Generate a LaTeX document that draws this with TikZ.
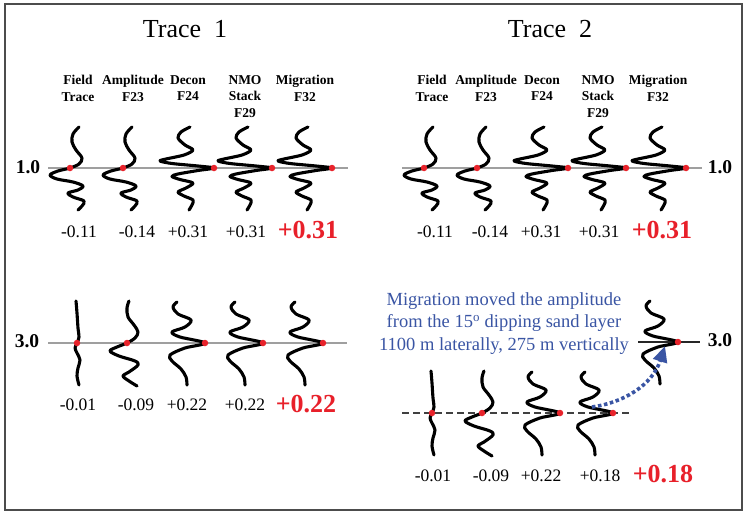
\documentclass[tikz,border=0pt]{standalone}
\usepackage{fontspec}
\setmainfont{Liberation Serif}
\usetikzlibrary{arrows.meta}
\definecolor{dotred}{HTML}{E8232B}
\definecolor{valred}{HTML}{E8202A}
\definecolor{txtblue}{HTML}{3A55A4}
\tikzset{
 wiggle/.style={line width=3.1pt, line cap=round, line join=round, draw=black},
 dotmark/.style={circle, fill=dotred, inner sep=0pt, minimum size=6.5pt},
 baseln/.style={draw=gray!75, line width=1.1pt},
 hdr/.style={font=\fontsize{13.5}{16.5}\selectfont\bfseries, align=center, anchor=north, inner sep=0pt},
 val/.style={font=\fontsize{17.5}{20}\selectfont, anchor=base, inner sep=0pt},
 bigval/.style={font=\fontsize{26}{30}\selectfont\bfseries, text=valred, anchor=base, inner sep=0pt},
 depthlbl/.style={font=\fontsize{19.5}{22}\selectfont\bfseries, anchor=base, inner sep=0pt},
 titlelbl/.style={font=\fontsize{26}{30}\selectfont, anchor=base, inner sep=0pt},
 note/.style={font=\fontsize{18.5}{22.5}\selectfont, text=txtblue, align=center, anchor=base, inner sep=0pt},
 migarrow/.style={draw=txtblue, line width=3.6pt, dash pattern=on 3.5pt off 2.6pt, -{Triangle[length=16pt,width=14pt,fill=txtblue]}},
}
% zero crossing at the time line, swinging left below it
\newcommand\wigA[2]{\draw[wiggle, shift={(#1,#2)}] plot[smooth, tension=0.55] coordinates {(9,-41) (3,-34) (2,-26) (6,-18) (12,-10) (9,-4) (0,0) (-12,3) (-20,7) (-13,11) (3,14) (13,18) (8,22) (-2,25) (3,29) (14,33) (12,38) (8,42)};}
% sharp peak on the time line, high frequency
\newcommand\wigB[2]{\draw[wiggle, shift={(#1,#2)}] plot[smooth, tension=0.5] coordinates {(-24,-41) (-33,-36) (-36,-30) (-29,-23) (-21,-18) (-30,-13) (-48,-9) (-54,-7) (-42,-4.5) (-16,-2) (0,0) (-16,2.5) (-36,6) (-42,8.5) (-34,11.5) (-21,15) (-28,20) (-36,24) (-30,28) (-21,32) (-22,37) (-25,42)};}
% peak on the time line, lower frequency
\newcommand\wigC[2]{\draw[wiggle, shift={(#1,#2)}] plot[smooth, tension=0.55] coordinates {(-28,-41) (-32,-36) (-27,-29) (-14,-23) (-20,-16) (-33,-11) (-25,-6) (0,0) (-20,5) (-35,12) (-33,18) (-24,26) (-19,34) (-18,42)};}
% zero crossing, lower frequency
\newcommand\wigD[2]{\draw[wiggle, shift={(#1,#2)}] plot[smooth, tension=0.55] coordinates {(2,-42) (0,-35) (1,-26) (7,-18) (11,-11) (8,-5) (0,0) (-10,4) (-17,8) (-8,13) (8,18) (11,22) (2,29) (-4,33) (2,38) (10,43)};}
% nearly flat trace
\newcommand\wigE[2]{\draw[wiggle, shift={(#1,#2)}] plot[smooth, tension=0.55] coordinates {(-1,-42) (0,-30) (1,-15) (2,-6) (0,0) (-2,5) (0,10) (3,17) (1,25) (0,33) (2,42)};}
\begin{document}
\begin{tikzpicture}[x=1pt, y=-1pt]
\useasboundingbox (0,0) rectangle (750,514);
\fill[white] (0,0) rectangle (750,514);
\draw[line width=1.3pt, draw=black!70] (5,4) rectangle (742,510);

% titles
\node[titlelbl] (t1) at (185,37) {Trace\ \ 1};
\node[titlelbl] (t2) at (550,37) {Trace\ \ 2};

% headers trace 1
\node[hdr] (h11) at (78,75) {Field\\Trace};
\node[hdr] (h12) at (133,75) {Amplitude\\F23};
\node[hdr] (h13) at (188,75) {Decon\\F24};
\node[hdr] (h14) at (245,75) {NMO\\Stack\\F29};
\node[hdr] (h15) at (305,75) {Migration\\F32};
% headers trace 2
\node[hdr] (h21) at (432,75) {Field\\Trace};
\node[hdr] (h22) at (486,75) {Amplitude\\F23};
\node[hdr] (h23) at (542,75) {Decon\\F24};
\node[hdr] (h24) at (598,75) {NMO\\Stack\\F29};
\node[hdr] (h25) at (658,75) {Migration\\F32};

% ---------- trace 1 at 1.0 ----------
\coordinate (l1a) at (48,168); \coordinate (l1b) at (348,168);
\draw[baseln] (l1a) -- (l1b);
\node[depthlbl] (dep11) at (28,173) {1.0};
\wigA{70}{168} \wigA{123}{168} \wigB{214}{168} \wigB{272}{168} \wigB{332}{168}
\node[dotmark] (p11) at (70,168) {};
\node[dotmark] (p12) at (123,168) {};
\node[dotmark] (p13) at (214,168) {};
\node[dotmark] (p14) at (272,168) {};
\node[dotmark] (p15) at (332,168) {};
\node[val] (v11) at (79,237) {-0.11};
\node[val] (v12) at (137,237) {-0.14};
\node[val] (v13) at (188,237) {+0.31};
\node[val] (v14) at (246,237) {+0.31};
\node[bigval] (v15) at (308,238) {+0.31};

% ---------- trace 2 at 1.0 ----------
\coordinate (l2a) at (402,168); \coordinate (l2b) at (702,168);
\draw[baseln] (l2a) -- (l2b);
\node[depthlbl] (dep21) at (720,173) {1.0};
\wigA{424}{168} \wigA{477}{168} \wigB{568}{168} \wigB{626}{168} \wigB{686}{168}
\node[dotmark] (p21) at (424,168) {};
\node[dotmark] (p22) at (477,168) {};
\node[dotmark] (p23) at (568,168) {};
\node[dotmark] (p24) at (626,168) {};
\node[dotmark] (p25) at (686,168) {};
\node[val] (v21) at (435,237) {-0.11};
\node[val] (v22) at (490,237) {-0.14};
\node[val] (v23) at (541,237) {+0.31};
\node[val] (v24) at (599,237) {+0.31};
\node[bigval] (v25) at (662,238) {+0.31};

% ---------- trace 1 at 3.0 ----------
\coordinate (l3a) at (48,343); \coordinate (l3b) at (347,343);
\draw[baseln] (l3a) -- (l3b);
\node[depthlbl] (dep13) at (27,347) {3.0};
\wigE{77}{343} \wigD{127}{343} \wigC{205}{343} \wigC{263}{343} \wigC{323}{343}
\node[dotmark] (q11) at (77,343) {};
\node[dotmark] (q12) at (127,343) {};
\node[dotmark] (q13) at (205,343) {};
\node[dotmark] (q14) at (263,343) {};
\node[dotmark] (q15) at (323,343) {};
\node[val] (w11) at (78,410) {-0.01};
\node[val] (w12) at (136,410) {-0.09};
\node[val] (w13) at (187,410) {+0.22};
\node[val] (w14) at (245,410) {+0.22};
\node[bigval] (w15) at (306,412) {+0.22};

% ---------- trace 2 at 3.0 ----------
\node[note] (msg) at (504,350) {Migration moved the amplitude\\from the 15\textsuperscript{o} dipping sand layer\\1100 m laterally, 275 m vertically};
\coordinate (l4a) at (638,342); \coordinate (l4b) at (700,342);
\draw[draw=black!85, line width=1.1pt] (l4a) -- (l4b);
\node[depthlbl] (dep23) at (720,346) {3.0};
\wigC{678}{342}
\node[dotmark] (q25m) at (678,342) {};

\coordinate (l5a) at (402,413); \coordinate (l5b) at (630,413);
\draw[draw=black!75, line width=1.1pt, dash pattern=on 7pt off 4pt] (l5a) -- (l5b);
\wigE{432}{413} \wigD{482}{413} \wigC{560}{413} \wigC{613}{413}
\node[dotmark] (q21) at (432,413) {};
\node[dotmark] (q22) at (482,413) {};
\node[dotmark] (q23) at (560,413) {};
\node[dotmark] (q24) at (613,413) {};
\node[val] (w21) at (433,481) {-0.01};
\node[val] (w22) at (491,481) {-0.09};
\node[val] (w23) at (541,481) {+0.22};
\node[val] (w24) at (600,481) {+0.18};
\node[bigval] (w25) at (663,482) {+0.18};

% migration arrow
\coordinate (arrS) at (592,407);
\coordinate (arrE) at (665,346);
\draw[migarrow] (arrS) .. controls (622,403) and (652,386) .. (arrE);
\end{tikzpicture}
\end{document}
